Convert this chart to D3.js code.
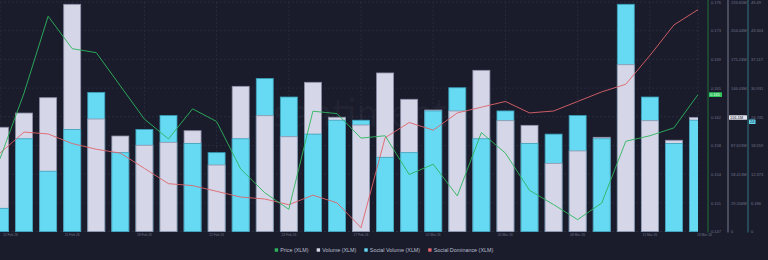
<!DOCTYPE html>
<html>
<head>
<meta charset="utf-8">
<script src="https://cdn.jsdelivr.net/npm/d3@7"></script>
<style>
body { margin: 0; background: #1a1c2c; }
svg { display: block; font-family: "Liberation Sans", Arial, sans-serif; }
</style>
</head>
<body>
<svg class="chart"></svg>
<script>
// Tamaño de la imagen
var width = 768, height = 260;
var plotRight = 698, plotBottom = 231.5, plotTop = 2;

// Días (categorías)
var dates = ["2026-02-12","2026-02-13","2026-02-14","2026-02-15","2026-02-16","2026-02-17","2026-02-18",
  "2026-02-19","2026-02-20","2026-02-21","2026-02-22","2026-02-23","2026-02-24","2026-02-25","2026-02-26",
  "2026-02-27","2026-02-28","2026-03-01","2026-03-02","2026-03-03","2026-03-04","2026-03-05","2026-03-06",
  "2026-03-07","2026-03-08","2026-03-09","2026-03-10","2026-03-11","2026-03-12","2026-03-13"];

// Precio (XLM)
var price = [0.1564,0.1647,0.1744,0.1703,0.1698,0.1656,0.1614,0.1589,0.1627,0.1611,0.1551,0.1521,0.1500,0.1624,0.1621,
  0.1590,0.1593,0.1544,0.1557,0.1517,0.1597,0.1571,0.1524,0.1506,0.1487,0.1508,0.1586,0.1593,0.1603,0.1645];

// Volumen (XLM), en millones
var volume = [106.1,120.6,136.2,231.3,114.5,97.2,87.8,90.8,102.6,67.7,147.8,117.9,96.5,151.9,116.3,
  108.4,161.4,134.6,123.7,122.7,164.1,112.8,108.1,69.4,82.0,95.9,169.8,112.8,92.9,116.1];

// Volumen social
var socialVolume = [5,20,13,22,30,17,22,25,19,17,20,33,29,21,24,24,16,17,26,31,20,26,19,21,25,20,49,29,19,24];

// Dominancia social (%)
var socialDominance = [0.71,0.82,0.81,0.76,0.73,0.71,0.63,0.55,0.54,0.51,0.48,0.47,0.44,0.49,0.45,
  0.32,0.79,0.87,0.83,0.92,0.95,0.98,0.92,0.93,0.98,1.03,1.07,1.22,1.38,1.46];

// Etiquetas del eje x
var xTickDates = ["2026-02-12","2026-02-15","2026-02-18","2026-02-21","2026-02-24","2026-02-27",
  "2026-03-02","2026-03-05","2026-03-08","2026-03-11","2026-03-13"];

// Dominios de los ejes
var priceDomain = [0.1472, 0.1762];
var volumeDomain = [0, 233.65];
var socialDomain = [0, 49.49];
var dominanceDomain = [0.3, 1.5];

var legendItems = ["Price (XLM)", "Volume (XLM)", "Social Volume (XLM)", "Social Dominance (XLM)"];

var colors = {
  price: "#2db55d", volume: "#d5d7e8", social: "#66d9f3", dominance: "#e0636a",
  volStroke: "#8e91a8", socStroke: "#3a9fb8", grid: "#282b3e", text: "#6f7387"
};

var parse = d3.timeParse("%Y-%m-%d");
var data = dates.map(function(d, i) {
  return { date: parse(d), price: price[i], volume: volume[i], social: socialVolume[i], dom: socialDominance[i] };
});

var x = d3.scaleTime().domain([data[0].date, data[data.length - 1].date]).range([0, plotRight]);
var yPrice = d3.scaleLinear().domain(priceDomain).range([plotBottom, plotTop]);
var yVol = d3.scaleLinear().domain(volumeDomain).range([plotBottom, plotTop]);
var ySoc = d3.scaleLinear().domain(socialDomain).range([plotBottom, plotTop]);
var yDom = d3.scaleLinear().domain(dominanceDomain).range([plotBottom, plotTop]);

function evenTicks(dom) {
  return d3.range(9).map(function(k) { return dom[0] + (dom[1] - dom[0]) * k / 8; });
}

var svg = d3.select(".chart").attr("width", width).attr("height", height);

svg.append("clipPath").attr("id", "plotclip")
  .append("rect").attr("x", 0).attr("y", 0).attr("width", plotRight).attr("height", plotBottom + 1);

// Rejilla
var grid = svg.append("g").attr("class", "grid");
grid.selectAll("line.h").data(evenTicks(priceDomain)).enter().append("line")
  .attr("x1", 0).attr("x2", plotRight)
  .attr("y1", function(d) { return yPrice(d); }).attr("y2", function(d) { return yPrice(d); })
  .attr("stroke", colors.grid).attr("stroke-dasharray", "2,2");
grid.selectAll("line.v").data(xTickDates).enter().append("line")
  .attr("x1", function(d) { return x(parse(d)); }).attr("x2", function(d) { return x(parse(d)); })
  .attr("y1", plotTop).attr("y2", plotBottom)
  .attr("stroke", colors.grid).attr("stroke-dasharray", "2,2");

// Marca de agua
svg.append("text").attr("x", 360).attr("y", 127).attr("text-anchor", "middle")
  .style("font-size", "40px").style("font-family", "Lato, sans-serif")
  .attr("fill", "rgba(255,255,255,0.035)").text("santiment");

// Barras: la más alta detrás
var bars = svg.append("g").attr("clip-path", "url(#plotclip)");
var barW = 18;
data.forEach(function(d) {
  var pair = [
    { y: yVol(d.volume), fill: colors.volume, stroke: colors.volStroke },
    { y: ySoc(d.social), fill: colors.social, stroke: colors.socStroke }
  ].sort(function(a, b) { return a.y - b.y; });
  pair.forEach(function(p) {
    bars.append("rect")
      .attr("x", x(d.date) - barW / 2 + 0.5).attr("y", p.y)
      .attr("width", barW - 1).attr("height", plotBottom - p.y)
      .attr("fill", p.fill).attr("stroke", p.stroke).attr("stroke-width", 0.8);
  });
});

// Líneas
var lines = svg.append("g").attr("clip-path", "url(#plotclip)");
lines.append("path").datum(data)
  .attr("fill", "none").attr("stroke", colors.dominance).attr("stroke-width", 0.9)
  .attr("d", d3.line().x(function(d) { return x(d.date); }).y(function(d) { return yDom(d.dom); }));
lines.append("path").datum(data)
  .attr("fill", "none").attr("stroke", colors.price).attr("stroke-width", 0.9)
  .attr("d", d3.line().x(function(d) { return x(d.date); }).y(function(d) { return yPrice(d.price); }));

var last = data[data.length - 1];

// Ejes a la derecha
function drawAxis(scale, dom, xpos, fmt, lineColor, hideNear) {
  var g = svg.append("g").attr("transform", "translate(" + xpos + ",0)")
    .call(d3.axisRight(scale).tickValues(evenTicks(dom)).tickSize(0).tickPadding(3).tickFormat(fmt));
  g.select(".domain").attr("stroke", lineColor).attr("stroke-width", 1.5)
    .attr("d", "M0," + (plotTop - 2) + "V" + (plotBottom + 1));
  g.selectAll("text").attr("fill", colors.text).style("font-size", "4px")
    .style("font-family", "Liberation Sans, Arial, sans-serif");
  // la caja del último valor tapa la etiqueta cercana
  if (hideNear !== undefined) {
    g.selectAll(".tick").filter(function(d) { return Math.abs(scale(d) - hideNear) < 4.5; }).remove();
  }
  return g;
}
drawAxis(yPrice, priceDomain, 708, d3.format(".3f"), "#1e5433", yPrice(last.price));
drawAxis(yVol, volumeDomain, 728, function(d) { return d === 0 ? "0" : d3.format(".5~r")(d) + "M"; }, "#585b6d", yVol(last.volume));
drawAxis(ySoc, socialDomain, 748, d3.format(".3~f"), "#2c5764");

// Etiquetas del último valor
function valueBox(xpos, yv, w, fill, txtColor, label) {
  svg.append("rect").attr("x", xpos).attr("y", yv - 2.3).attr("width", w).attr("height", 4.6)
    .attr("fill", fill).attr("rx", 0.5);
  svg.append("text").attr("x", xpos + 1).attr("y", yv).attr("dy", "0.35em")
    .style("font-size", "4px").attr("fill", txtColor).text(label);
}
valueBox(709, yPrice(last.price), 13, "#2ec45c", "#e8ffee", d3.format(".3f")(last.price));
valueBox(729, yVol(last.volume), 18, "#e2e4ee", "#1a1c2c", d3.format(".5~r")(last.volume) + "M");
valueBox(749, ySoc(last.social) + 1.5, 6.5, colors.social, "#1a1c2c", String(last.social));

// Eje x
var fmtDate = d3.timeFormat("%d %b %y");
svg.selectAll("text.xlab").data(xTickDates).enter().append("text")
  .attr("class", "xlab")
  .attr("x", function(d, i) {
    if (i === 0) return 3;
    if (i === xTickDates.length - 1) return x(parse(d)) - 1;
    return x(parse(d));
  })
  .attr("y", 236)
  .attr("text-anchor", function(d, i) { return (i === 0 || i === xTickDates.length - 1) ? "start" : "middle"; })
  .style("font-size", "3.3px").attr("fill", colors.text)
  .text(function(d) { return fmtDate(parse(d)); });

// Leyenda
var legendColors = [colors.price, colors.volume, colors.social, colors.dominance];
var legend = svg.append("g").attr("transform", "translate(0,250)");
var cursor = 0;
legendItems.forEach(function(name, i) {
  var g = legend.append("g");
  g.append("rect").attr("x", 0).attr("y", -1.7).attr("width", 3.4).attr("height", 3.4).attr("fill", legendColors[i]);
  var t = g.append("text").attr("x", 5.5).attr("y", 0).attr("dy", "0.35em")
    .style("font-size", "5.4px").attr("fill", "#b9bccb").text(name);
  var w = 5.5 + t.node().getComputedTextLength();
  g.attr("transform", "translate(" + cursor + ",0)");
  cursor += w + 8;
});
var total = cursor - 8;
legend.attr("transform", "translate(" + (384 - total / 2) + ",250)");
</script>
</body>
</html>
